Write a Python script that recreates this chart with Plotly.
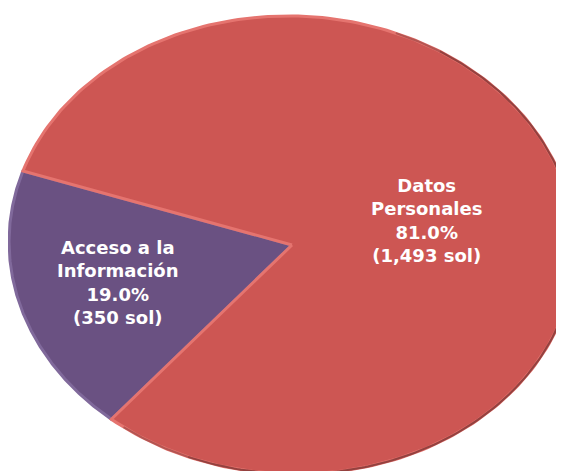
import numpy as np
import plotly.graph_objects as go

# data
categorias = ["Acceso a la<br>Información", "Datos<br>Personales"]
solicitudes = [350, 1493]
colores = ["#6A5182", "#CD5653"]
bordes = ["#80699B", "#E5746F"]

# tilted ellipse geometry (pixel coords of the page, y down)
cx, cy = 292, 245
rx, ry = 283, 229
giro = np.radians(1.9)
inicio = 163.5  # parametric angle where the first slice starts (deg, counterclockwise)

total = sum(solicitudes)
pct = [v / total * 100 for v in solicitudes]


def elipse(grados):
    t = np.radians(grados)
    u = rx * np.cos(t)
    v = -ry * np.sin(t)
    return cx + u * np.cos(giro) - v * np.sin(giro), cy + u * np.sin(giro) + v * np.cos(giro)


fig = go.Figure()

a0 = inicio
for i, v in enumerate(solicitudes):
    a1 = a0 + v / total * 360
    ax, ay = elipse(np.linspace(a0, a1, 240))
    xs = np.concatenate([[cx], ax, [cx]])
    ys = np.concatenate([[cy], ay, [cy]])
    fig.add_trace(go.Scatter(
        x=xs, y=ys, mode="lines", fill="toself",
        fillcolor=colores[i],
        line=dict(color=bordes[i], width=3),
        hoverinfo="skip", showlegend=False,
    ))
    a0 = a1

# soft shadow on the right / bottom rim, fading at both ends
for tramo, alfa in [((-125, 70), 0.35), ((-110, 60), 0.35)]:
    sx, sy = elipse(np.linspace(tramo[0], tramo[1], 300))
    fig.add_trace(go.Scatter(x=sx, y=sy, mode="lines",
                             line=dict(color=f"rgba(90,30,30,{alfa})", width=2),
                             hoverinfo="skip", showlegend=False))

# labels
pos = [(118, 282), (426, 220)]
for i, v in enumerate(solicitudes):
    fig.add_annotation(
        x=pos[i][0], y=pos[i][1], xref="x", yref="y",
        text=f"<b>{categorias[i]}<br>{pct[i]:.1f}%<br>({v:,} sol)</b>",
        showarrow=False,
        font=dict(family="DejaVu Sans", size=18, color="white"),
        align="center",
    )

# page body has an 8px margin, so the plot starts at (8, 8)
fig.update_xaxes(range=[8, 564], visible=False, fixedrange=True)
fig.update_yaxes(range=[471, 8], visible=False, fixedrange=True)
fig.update_layout(
    width=556, height=463,
    margin=dict(l=0, r=0, t=0, b=0),
    paper_bgcolor="white", plot_bgcolor="white",
)

fig.write_html("out.html")
